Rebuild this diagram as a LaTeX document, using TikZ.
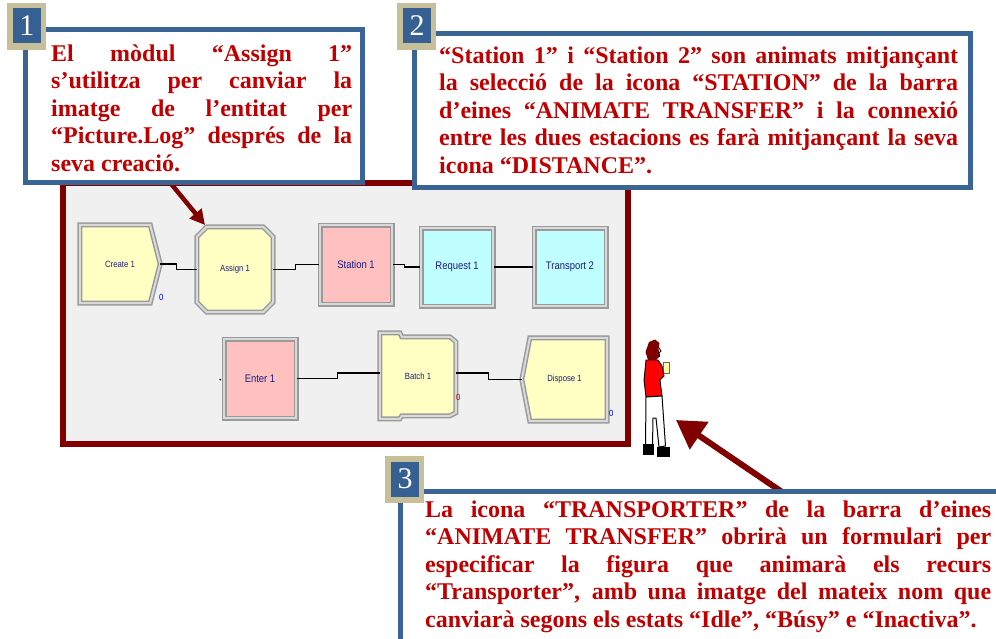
\documentclass[tikz,border=0pt]{standalone}
\usepackage{fontspec}
\setmainfont{Liberation Serif}
\setsansfont{Liberation Sans}
\newfontfamily\modfont{Liberation Sans}[FakeStretch=0.86]
\usetikzlibrary{arrows.meta,calc}

\definecolor{panelred}{HTML}{800000}
\definecolor{panelbg}{HTML}{F0F0F0}
\definecolor{boxblue}{HTML}{3A6494}
\definecolor{badgetan}{HTML}{C7BF99}
\definecolor{badgeblue}{HTML}{366092}
\definecolor{notered}{HTML}{C00000}
\definecolor{modyellow}{HTML}{FFFFC4}
\definecolor{modpink}{HTML}{FFC0C0}
\definecolor{modcyan}{HTML}{C0FFFF}
\definecolor{modtext}{HTML}{1C1C80}
\definecolor{modgray}{HTML}{9A9A9A}

\pgfdeclarelayer{bg}
\pgfsetlayers{bg,main}

% one justified line of a note, stretched to the full width
\newcommand\fullline[1]{\makebox[\linewidth][s]{#1}\par}

\tikzset{
  panel/.style={draw=panelred, fill=panelbg, line width=6pt},
  modframe/.style={draw=modgray, line width=1.5pt, double=gray!30, double distance=2pt},
  modshape/.style={rectangle, inner sep=0pt, text=modtext},
  bigmod/.style={modshape, font=\modfont\fontsize{11}{12}\selectfont},
  smallmod/.style={modshape, font=\modfont\fontsize{9}{10}\selectfont},
  rectmod/.style={bigmod, modframe},
  conn/.style={draw=black, line width=1.3pt},
  counter/.style={inner sep=0pt, font=\modfont\fontsize{9}{10}\selectfont},
  notebox/.style={draw=boxblue, fill=white, line width=5pt},
  notetext/.style={anchor=base west, inner sep=0pt, text=notered,
    font=\fontsize{24}{27.6}\selectfont\bfseries},
  badgeinner/.style={fill=badgeblue, text=white, inner sep=0pt,
    minimum width=28pt, minimum height=35pt, font=\fontsize{30}{30}\selectfont},
  callout/.style={draw=panelred, line cap=butt},
}

\begin{document}
\begin{tikzpicture}[x=1pt,y=-1pt]
\useasboundingbox (0,0) rectangle (996,638);
\clip (0,0) rectangle (996,638);

% ---------- model panel ----------
\begin{pgfonlayer}{bg}
  \draw[panel] (62.5,183) rectangle (627.5,444);
\end{pgfonlayer}

% first row of modules
\node[smallmod, minimum width=80pt, minimum height=78pt] (create) at (120,264) {Create 1};
\node[smallmod, minimum width=76pt, minimum height=85pt] (assign) at (235,269.5) {Assign 1};
\node[rectmod, fill=modpink, minimum width=72pt, minimum height=79pt] (station) at (356,264.5) {Station 1};
\node[rectmod, fill=modcyan, minimum width=72pt, minimum height=78pt] (request) at (457,267) {Request 1};
\node[rectmod, fill=modcyan, minimum width=72pt, minimum height=78pt] (transport) at (570,267) {Transport 2};

% second row of modules
\node[rectmod, fill=modpink, minimum width=72pt, minimum height=79pt] (enter) at (260,378.5) {Enter 1};
\node[smallmod, minimum width=76pt, minimum height=86pt] (batch) at (418,376) {Batch 1};
\node[smallmod, minimum width=85pt, minimum height=83pt] (dispose) at (564.5,379.5) {Dispose 1};

% outlines of the shaped modules
\begin{pgfonlayer}{bg}
  \path[modframe, fill=modyellow]
    (create.north west) -- ($(create.north east)+(-10,0)$) -- (create.east)
    -- ($(create.south east)+(-10,0)$) -- (create.south west) -- cycle;
  \path[modframe, fill=modyellow]
    ($(assign.north west)+(10,0)$) -- ($(assign.north east)+(-10,0)$)
    -- ($(assign.north east)+(0,10)$) -- ($(assign.south east)+(0,-10)$)
    -- ($(assign.south east)+(-10,0)$) -- ($(assign.south west)+(10,0)$)
    -- ($(assign.south west)+(0,-10)$) -- ($(assign.north west)+(0,10)$) -- cycle;
  \path[modframe, fill=modyellow]
    (batch.north west) -- +(20,0) -- +(22,4) -- +(70,4) -- +(76,9)
    -- +(76,80) -- +(70,83) -- +(22,83) -- +(20,86) -- +(0,86) -- cycle;
  \path[modframe, fill=modyellow]
    ($(dispose.north west)+(8,0)$) -- (dispose.north east) -- (dispose.south east)
    -- ($(dispose.south west)+(8,0)$) -- (dispose.west) -- cycle;
\end{pgfonlayer}

% connectors between modules
\draw[conn] (create.east) -- ++(16,0) |- (assign.west);
\draw[conn] (assign.east) -- ++(22,0) |- (station.west);
\draw[conn] (station.east) -- ++(12,0) |- (request.west);
\draw[conn] (request.east) -- ++(18,0) |- (transport.west);
\draw[conn] (enter.east) -- ++(41,0) |- ($(batch.west)+(0,-3)$);
\draw[conn] ($(batch.east)+(0,-3)$) -- ++(32,0) |- (dispose.west);
\fill ($(enter.west)+(-3,1)$) circle (1pt);

% entity counters
\node[counter, text=blue] (cnt1) at ($(create.south east)+(1,-6)$) {0};
\node[counter, text=notered] (cnt2) at ($(batch.south east)+(2,-22)$) {0};
\node[counter, text=blue] (cnt3) at ($(dispose.south east)+(4,-8)$) {0};

% ---------- transporter figure ----------
\fill[panelred] (649,342) -- (655,339.5) -- (659.5,343) -- (658.5,349) -- (660,356)
  -- (656,360) -- (648,360) -- (645.5,352) -- cycle;
\draw[black, line width=0.8pt] (658.5,347) -- (661,351) -- (659,353) -- (659.5,357);
\filldraw[fill=yellow!35, draw=black!60, line width=0.6pt] (663,362) rectangle (669,373);
\filldraw[fill=red, draw=black, line width=0.9pt] (646,360) -- (658,360) -- (662,366)
  -- (664,376) -- (660,380) -- (662,396) -- (646,397) -- (644,380) -- cycle;
\filldraw[fill=white, draw=black, line width=1pt] (646,397) -- (662,396) -- (665.5,446)
  -- (659,447) -- (656,418) -- (653,418) -- (652.5,446) -- (645.5,446) -- cycle;
\fill[black] (642.5,444) rectangle (654,455);
\fill[black] (657,447) rectangle (670,456.5);

% ---------- callout 1 ----------
\coordinate (a1start) at (163,174);
\coordinate (a1tip) at (205,225);
\draw[callout, line width=4.5pt, -{Triangle[length=15pt,width=15pt]}] (a1start) -- (a1tip);

\node[notebox, minimum width=337pt, minimum height=153pt] (box1) at (194,106) {};
\node[notetext] (text1) at (51,61) {\parbox[t]{301pt}{%
  \fullline{El mòdul “Assign 1”}%
  \fullline{s’utilitza per canviar la}%
  \fullline{imatge de l’entitat per}%
  \fullline{“Picture.Log” després de la}%
  seva creació.}};
\fill[badgetan] (7,3) rectangle (46,50);
\node[badgeinner] (badge1) at (27,25.5) {1};

% ---------- callout 2 ----------
\node[notebox, minimum width=556pt, minimum height=154pt] (box2) at (692,110) {};
\node[notetext] (text2) at (439,63) {\parbox[t]{519pt}{%
  \fullline{“Station 1” i “Station 2” son animats mitjançant}%
  \fullline{la selecció de la icona “STATION” de la barra}%
  \fullline{d’eines “ANIMATE TRANSFER” i la connexió}%
  \fullline{entre les dues estacions es farà mitjançant la seva}%
  icona “DISTANCE”.}};
\fill[badgetan] (397,3) rectangle (436,50);
\node[badgeinner] (badge2) at (417,25.5) {2};

% ---------- callout 3 ----------
\coordinate (a3start) at (782,492);
\coordinate (a3tip) at (676,420);
\draw[callout, line width=6pt, -{Triangle[length=28pt,width=32pt]}] (a3start) -- (a3tip);

\node[notebox, minimum width=610pt, minimum height=170pt] (box3) at (705.5,576) {};
\node[notetext] (text3) at (425,517) {\parbox[t]{566pt}{%
  \fullline{La icona “TRANSPORTER” de la barra d’eines}%
  \fullline{“ANIMATE TRANSFER” obrirà un formulari per}%
  \fullline{especificar la figura que animarà els recurs}%
  \fullline{“Transporter”, amb una imatge del mateix nom que}%
  canviarà segons els estats “Idle”, “Búsy” e “Inactiva”.}};
\fill[badgetan] (385,456) rectangle (424,503);
\node[badgeinner] (badge3) at (405,479) {3};
\end{tikzpicture}
\end{document}
